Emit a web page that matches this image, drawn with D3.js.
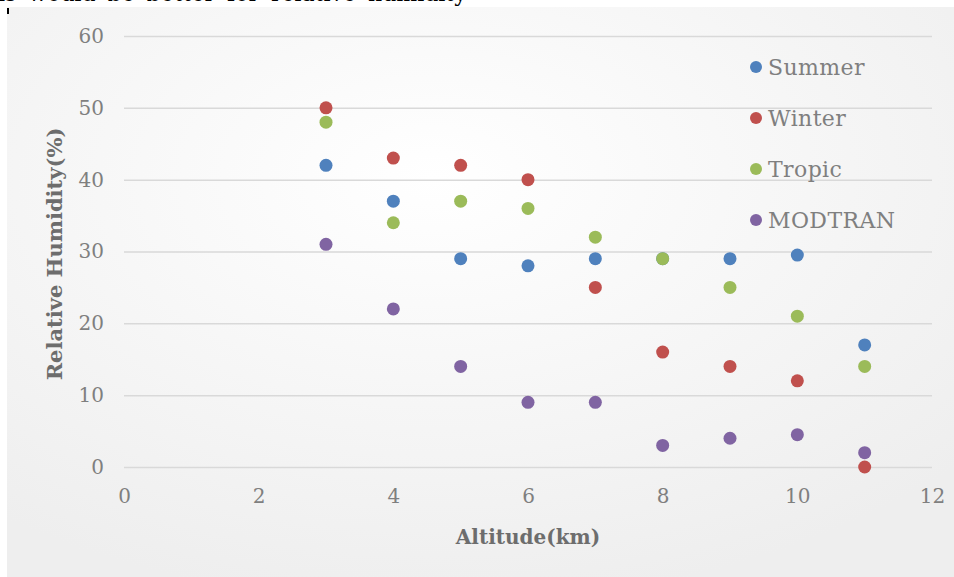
<!DOCTYPE html>
<html>
<head>
<meta charset="utf-8">
<script src="https://cdn.jsdelivr.net/npm/d3@7/dist/d3.min.js"></script>
<style>
  html, body { margin: 0; padding: 0; background: #ffffff; }
  svg { display: block; }
  text { font-family: "DejaVu Serif", "Liberation Serif", serif; }
</style>
</head>
<body>
<svg id="chart" width="954" height="577"></svg>
<script>
// Altitude (km) of each sample
const altitudes = [3, 4, 5, 6, 7, 8, 9, 10, 11];

// Relative humidity (%) per profile
const summer   = [42, 37, 29, 28, 29, 29, 29, 29.5, 17];
const winter   = [50, 43, 42, 40, 25, 16, 14, 12, 0];
const tropic   = [48, 34, 37, 36, 32, 29, 25, 21, 14];
const modtran  = [31, 22, 14, 9, 9, 3, 4, 4.5, 2];

const seriesNames  = ["Summer", "Winter", "Tropic", "MODTRAN"];
const seriesValues = [summer, winter, tropic, modtran];
const seriesColors = ["#4f81bd", "#c0504d", "#9bbb59", "#8064a2"];

const xTicks = [0, 2, 4, 6, 8, 10, 12];
const yTicks = [0, 10, 20, 30, 40, 50, 60];

const svg = d3.select("#chart");
const W = 954, H = 577;

// caption line of the surrounding document, clipped by the frame top
svg.append("text")
  .attr("x", -2).attr("y", 1)
  .attr("font-family", "Liberation Serif, serif")
  .attr("font-size", 22)
  .attr("word-spacing", 5)
  .attr("fill", "#000")
  .text("is would be better for relative humidity");

// chart area background with a soft radial shading
const defs = svg.append("defs");
const grad = defs.append("radialGradient")
  .attr("id", "bg").attr("cx", "45%").attr("cy", "30%").attr("r", "75%");
grad.append("stop").attr("offset", "0%").attr("stop-color", "#ffffff");
grad.append("stop").attr("offset", "100%").attr("stop-color", "#eeeeee");

svg.append("rect")
  .attr("x", 7).attr("y", 7).attr("width", W - 7).attr("height", H - 7)
  .attr("fill", "url(#bg)");

svg.append("rect")
  .attr("x", 7).attr("y", 8).attr("width", 2).attr("height", 6)
  .attr("fill", "#000");

const x = d3.scaleLinear().domain([0, 12]).range([124, 932]);
const y = d3.scaleLinear().domain([0, 60]).range([467, 36]);

// horizontal gridlines
const yAxis = d3.axisLeft(y).tickValues(yTicks)
  .tickSize(-(x.range()[1] - x.range()[0])).tickPadding(20);
const gy = svg.append("g").attr("transform", `translate(${x.range()[0]},0)`).call(yAxis);
gy.select(".domain").remove();
gy.selectAll(".tick line").attr("stroke", "#d9d9d9").attr("stroke-width", 1.5);
gy.selectAll(".tick text")
  .attr("fill", "#7f7f7f").attr("font-size", 20)
  .attr("font-family", "DejaVu Serif, serif");

const xAxis = d3.axisBottom(x).tickValues(xTicks).tickSize(0).tickPadding(22);
const gx = svg.append("g").attr("transform", `translate(0,${y(0)})`).call(xAxis);
gx.select(".domain").remove();
gx.selectAll(".tick text")
  .attr("fill", "#7f7f7f").attr("font-size", 20)
  .attr("font-family", "DejaVu Serif, serif");

// axis titles
svg.append("text")
  .attr("x", (x.range()[0] + x.range()[1]) / 2).attr("y", 544)
  .attr("text-anchor", "middle")
  .attr("font-size", 20).attr("font-weight", "bold")
  .attr("fill", "#6d6d6d")
  .text("Altitude(km)");

svg.append("text")
  .attr("transform", "translate(62,254) rotate(-90)")
  .attr("text-anchor", "middle")
  .attr("font-size", 21).attr("font-weight", "bold")
  .attr("fill", "#6d6d6d")
  .text("Relative Humidity(%)");

// scatter points
seriesValues.forEach((vals, i) => {
  svg.append("g").selectAll("circle")
    .data(vals.map((v, j) => ({ a: altitudes[j], v })))
    .join("circle")
    .attr("cx", d => x(d.a))
    .attr("cy", d => y(d.v))
    .attr("r", 6.5)
    .attr("fill", seriesColors[i]);
});

// legend
const legend = svg.append("g");
seriesNames.forEach((name, i) => {
  const ly = 67 + i * 51;
  legend.append("circle").attr("cx", 756).attr("cy", ly).attr("r", 6)
    .attr("fill", seriesColors[i]);
  legend.append("text").attr("x", 768).attr("y", ly + 8)
    .attr("font-size", 22).attr("letter-spacing", 0.4).attr("fill", "#7f7f7f")
    .text(name);
});
</script>
</body>
</html>
